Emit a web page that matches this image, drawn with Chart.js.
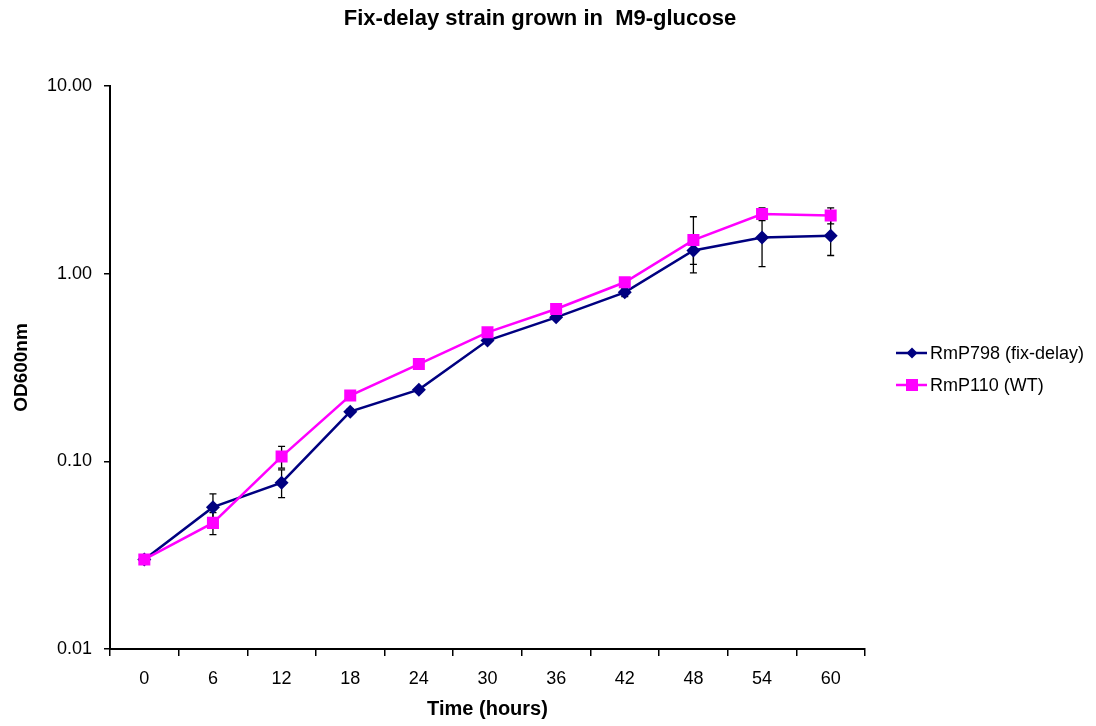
<!DOCTYPE html>
<html>
<head>
<meta charset="utf-8">
<script src="https://cdn.jsdelivr.net/npm/chart.js@4/dist/chart.umd.min.js"></script>
<style>
  body { margin: 0; background: #fff; }
  canvas { display: block; }
</style>
</head>
<body>
<canvas id="growthChart" width="1096" height="726"></canvas>
<script>
// czas pomiaru (godziny)
const timeLabels = ['0', '6', '12', '18', '24', '30', '36', '42', '48', '54', '60'];

// OD600 - szczep fix-delay
const fixDelayOD = [0.030, 0.057, 0.077, 0.184, 0.241, 0.440, 0.585, 0.795, 1.33, 1.56, 1.59];
const fixDelayErr = [0, 0.010, 0.013, 0.006, 0.006, 0.010, 0.012, 0.040, 0.21, 0.47, 0.34];

// OD600 - typ dziki
const wildTypeOD = [0.030, 0.047, 0.106, 0.224, 0.330, 0.487, 0.648, 0.900, 1.51, 2.08, 2.04];
const wildTypeErr = [0, 0.0063, 0.014, 0.008, 0.008, 0.010, 0.015, 0.030, 0.50, 0.16, 0.20];

const yTickValues = [0.01, 0.1, 1, 10];

const chartTitle = 'Fix-delay strain grown in  M9-glucose';
const seriesNames = ['RmP798 (fix-delay)', 'RmP110 (WT)'];
const seriesColors = ['#000080', '#FF00FF'];

const FONT = '"Liberation Sans", Arial, sans-serif';

// rysowanie słupków błędu pod punktami
const errorBarsPlugin = {
    id: 'errorBars',
    beforeDatasetsDraw(chart) {
        const ctx = chart.ctx;
        const x = chart.scales.x;
        const y = chart.scales.y;
        const errs = [fixDelayErr, wildTypeErr];
        ctx.save();
        ctx.strokeStyle = '#000';
        ctx.lineWidth = 1.3;
        chart.data.datasets.forEach((ds, di) => {
            ds.data.forEach((v, i) => {
                const e = errs[di][i];
                if (!e) return;
                const px = x.getPixelForValue(i);
                const top = y.getPixelForValue(v + e);
                const bottom = y.getPixelForValue(Math.max(v - e, 0.0001));
                ctx.beginPath();
                ctx.moveTo(px, top);
                ctx.lineTo(px, bottom);
                ctx.moveTo(px - 3.5, top);
                ctx.lineTo(px + 3.5, top);
                ctx.moveTo(px - 3.5, bottom);
                ctx.lineTo(px + 3.5, bottom);
                ctx.stroke();
            });
        });
        ctx.restore();
    }
};

// tytuł i legenda w stylu Excela (linia + znacznik)
const excelDecorPlugin = {
    id: 'excelDecor',
    afterDraw(chart) {
        const ctx = chart.ctx;
        ctx.save();
        ctx.fillStyle = '#000';
        ctx.textAlign = 'center';
        ctx.textBaseline = 'middle';
        ctx.font = 'bold 22px ' + FONT;
        ctx.fillText(chartTitle, 540, 19);

        const rows = [353, 385];
        ctx.font = '18px ' + FONT;
        ctx.textAlign = 'left';
        rows.forEach((ry, i) => {
            ctx.strokeStyle = seriesColors[i];
            ctx.lineWidth = 2.5;
            ctx.beginPath();
            ctx.moveTo(896, ry);
            ctx.lineTo(927, ry);
            ctx.stroke();
            ctx.fillStyle = seriesColors[i];
            ctx.beginPath();
            if (i === 0) {
                ctx.moveTo(912, ry - 5.5);
                ctx.lineTo(917.5, ry);
                ctx.lineTo(912, ry + 5.5);
                ctx.lineTo(906.5, ry);
                ctx.closePath();
            } else {
                ctx.rect(906, ry - 6, 12, 12);
            }
            ctx.fill();
            ctx.fillStyle = '#000';
            ctx.fillText(seriesNames[i], 930, ry + 1);
        });
        ctx.restore();
    }
};

new Chart(document.getElementById('growthChart'), {
    type: 'line',
    data: {
        labels: timeLabels,
        datasets: [{
            label: seriesNames[0],
            data: fixDelayOD,
            borderColor: seriesColors[0],
            backgroundColor: seriesColors[0],
            borderWidth: 2.5,
            pointStyle: 'rectRot',
            pointRadius: 7,
            pointBorderWidth: 0,
            tension: 0,
            order: 2
        }, {
            label: seriesNames[1],
            data: wildTypeOD,
            borderColor: seriesColors[1],
            backgroundColor: seriesColors[1],
            borderWidth: 2.5,
            pointStyle: 'rect',
            pointRadius: 8.5,
            pointBorderWidth: 0,
            tension: 0,
            order: 1
        }]
    },
    options: {
        responsive: false,
        animation: false,
        devicePixelRatio: 1,
        layout: { padding: { left: 0, right: 231, top: 86, bottom: 0 } },
        plugins: {
            legend: { display: false },
            tooltip: { enabled: false },
            title: { display: false }
        },
        scales: {
            x: {
                type: 'category',
                offset: true,
                afterFit: s => { s.height = 77; },
                grid: { offset: true, drawOnChartArea: false, tickLength: 7, color: '#000', lineWidth: 1.5 },
                border: { display: true, color: '#000', width: 2 },
                ticks: {
                    color: '#000',
                    padding: 12,
                    font: { family: FONT, size: 18 }
                },
                title: {
                    display: true,
                    text: 'Time (hours)',
                    color: '#000',
                    font: { family: FONT, size: 20, weight: 'bold' },
                    padding: { top: 0, bottom: 5 }
                }
            },
            y: {
                type: 'logarithmic',
                min: 0.01,
                max: 10,
                afterFit: s => { s.width = 110; },
                afterBuildTicks: s => { s.ticks = yTickValues.map(v => ({ value: v })); },
                grid: { drawOnChartArea: false, tickLength: 6, color: '#000', lineWidth: 1.5 },
                border: { display: true, color: '#000', width: 2 },
                ticks: {
                    color: '#000',
                    padding: 12,
                    font: { family: FONT, size: 18 },
                    callback: v => Number(v).toFixed(2)
                },
                title: {
                    display: true,
                    text: 'OD600nm',
                    color: '#000',
                    font: { family: FONT, size: 19, weight: 'bold' },
                    padding: { top: 10, bottom: 0 }
                }
            }
        }
    },
    plugins: [errorBarsPlugin, excelDecorPlugin]
});
</script>
</body>
</html>
